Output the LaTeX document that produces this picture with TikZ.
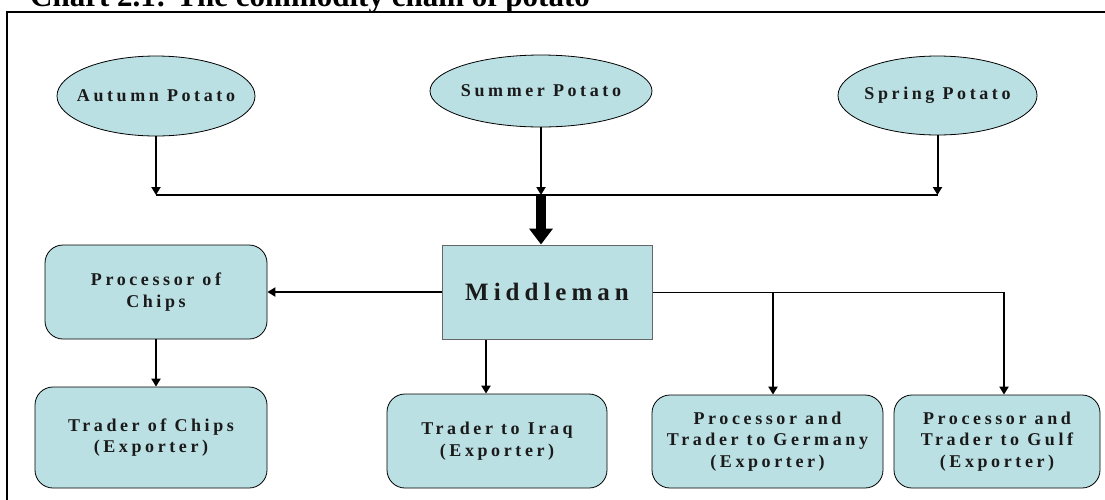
\documentclass[tikz,border=0pt]{standalone}
\usepackage{fontspec}
\setmainfont{Liberation Serif}
\newfontfamily\lblfont{Liberation Serif}[LetterSpace=20]
\usetikzlibrary{shapes.geometric,arrows.meta}
\definecolor{boxfill}{HTML}{BBE0E3}
\definecolor{txt}{HTML}{1A1A1A}
\tikzset{
  potato/.style={ellipse, draw=black, line width=0.8pt, fill=boxfill, inner sep=0pt},
  potatotext/.style={inner sep=0pt, text=txt, font=\lblfont\bfseries\fontsize{18}{21}\selectfont},
  rbox/.style={rectangle, rounded corners=18pt, draw=black, line width=0.8pt, fill=boxfill,
    inner sep=0pt, align=center, text=txt, font=\lblfont\bfseries\fontsize{18}{21.5}\selectfont},
  midbox/.style={rectangle, draw=black!60, line width=1pt, fill=boxfill, inner sep=0pt,
    text=txt, font=\lblfont\bfseries\fontsize{25}{29}\selectfont},
  link/.style={line width=2pt},
  thin/.style={line width=1pt},
  arr/.style={line width=2pt, -{Triangle[width=9pt,length=8pt]}},
  bigarr/.style={line width=10pt, -{Triangle[width=23pt,length=16pt]}},
}
\begin{document}
\begin{tikzpicture}[x=1pt,y=-1pt]
\useasboundingbox (0,0) rectangle (1105,499);
\clip (0,0) rectangle (1105,499);
\fill[white] (0,0) rectangle (1105,499);
% title and frame
\node[anchor=base west, inner sep=0pt, font=\bfseries\fontsize{31}{36}\selectfont] (title) at (30,6.5) {Chart 2.1: The commodity chain of potato};
\draw[line width=2pt] (1130,12) -- (7,12) -- (7,530);
% sources
\node[potato, minimum width=198pt, minimum height=80pt] (autumn) at (156,96) {};
\node[potato, minimum width=222pt, minimum height=72pt] (summer) at (541,91) {};
\node[potato, minimum width=199pt, minimum height=79pt] (spring) at (937.5,95.5) {};
\node[potatotext] (autumnT) at (autumn.center) {Autumn Potato};
\node[potatotext] (summerT) at (summer.center) {Summer Potato};
\node[potatotext] (springT) at (spring.center) {Spring Potato};
% junction line
\coordinate (jA) at (156,195);
\coordinate (jM) at (541,195);
\coordinate (jS) at (937.5,195);
\draw[link] (jA) -- (jS);
\draw[arr] (autumn.south) -- (jA);
\draw[arr] (summer.south) -- (jM);
\draw[arr] (spring.south) -- (jS);
% middleman
\node[midbox, minimum width=210pt, minimum height=94pt] (mid) at (547,292) {Middleman};
\draw[bigarr] (jM) -- (jM |- mid.north);
% left branch
\node[rbox, minimum width=222pt, minimum height=94pt] (proc) at (156,292) {Processor of\\Chips};
\node[rbox, minimum width=232pt, minimum height=101pt] (trc) at (151,437.5) {Trader of Chips\\(Exporter)};
\draw[arr] (mid.west) -- (proc.east);
\draw[arr] (proc.south) -- (proc.south |- trc.north);
% iraq
\node[rbox, minimum width=220pt, minimum height=94pt] (iraq) at (497,441) {Trader to Iraq\\(Exporter)};
\coordinate (cI) at (486,0);
\draw[arr] (mid.south -| cI) -- (iraq.north -| cI);
% right branch
\node[rbox, minimum width=231pt, minimum height=93pt] (germ) at (767.5,441.5) {Processor and\\Trader to Germany\\(Exporter)};
\node[rbox, minimum width=206pt, minimum height=93pt] (gulf) at (997,441.5) {Processor and\\Trader to Gulf\\(Exporter)};
\coordinate (jG) at (773,292);
\coordinate (jF) at (1004,292);
\draw[thin] (mid.east) -- (jF);
\draw[arr] (jG) -- (jG |- germ.north);
\draw[arr] (jF) -- (jF |- gulf.north);
\end{tikzpicture}
\end{document}
